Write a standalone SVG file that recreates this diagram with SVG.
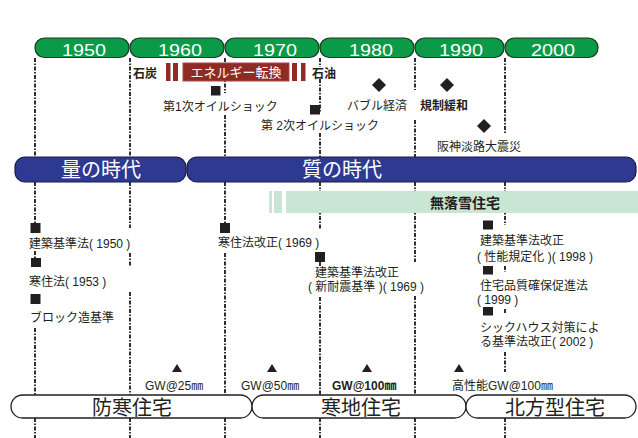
<svg xmlns="http://www.w3.org/2000/svg" width="638" height="438" viewBox="0 0 638 438">
<style>
text{font-family:"Liberation Sans","Noto Sans CJK JP",sans-serif;fill:#231f20}
.t{font-size:12px}
.b{font-weight:bold}
.mm{font-family:"Noto Sans CJK JP",sans-serif;fill:#231f20}
.yr{font-size:17px;fill:#fff;text-anchor:middle}
.tab{fill:#0a9a48;stroke:#1b3a22;stroke-width:1.2}
.era{fill:#2e3a92;stroke:#1a1d40;stroke-width:1.2}
.era-t{font-size:20px;fill:#fff;text-anchor:middle}
.home{fill:#fff;stroke:#231f20;stroke-width:1.3}
.home-t{font-size:20px;text-anchor:middle}
.gw{font-size:12px}
.dl{stroke:#1a1a1a;stroke-width:1.8;stroke-dasharray:4 1.5 1.5 1.5;fill:none}
.sq{fill:#231f20}
.red{fill:#8e2b24}
</style>
<g id="connectors">
<path class="dl" d="M35 58V157M35 182V223M35 251V258M35 328V395M35 418V438"/>
<path class="dl" d="M130 58V157M130 182V228M130 253V267M130 292V395M130 418V438"/>
<path class="dl" d="M225 58V93M225 115V157M225 182V223M225 253V395M225 418V438"/>
<path class="dl" d="M320 58V67M320 79V113M320 133V157M320 182V230M320 262V266M320 297V395M320 418V438"/>
<path class="dl" d="M415 58V90M415 120V157M415 182V262M415 296V395M415 418V438"/>
<path class="dl" d="M505 58V133M505 182V225M505 266V272M505 309V314M505 352V372M505 418V438"/>
</g>
<g id="decades">
<rect class="tab" x="35" y="38" width="94" height="19.5" rx="9.5"/>
<rect class="tab" x="130" y="38" width="94" height="19.5" rx="9.5"/>
<rect class="tab" x="225" y="38" width="94" height="19.5" rx="9.5"/>
<rect class="tab" x="320" y="38" width="94" height="19.5" rx="9.5"/>
<rect class="tab" x="415" y="38" width="89" height="19.5" rx="9.5"/>
<rect class="tab" x="505" y="38" width="93" height="19.5" rx="9.5"/>
<text class="yr" x="84" y="56" textLength="44" lengthAdjust="spacingAndGlyphs">1950</text>
<text class="yr" x="180" y="56" textLength="44" lengthAdjust="spacingAndGlyphs">1960</text>
<text class="yr" x="275" y="56" textLength="44" lengthAdjust="spacingAndGlyphs">1970</text>
<text class="yr" x="371" y="56" textLength="44" lengthAdjust="spacingAndGlyphs">1980</text>
<text class="yr" x="461" y="56" textLength="44" lengthAdjust="spacingAndGlyphs">1990</text>
<text class="yr" x="553" y="56" textLength="44" lengthAdjust="spacingAndGlyphs">2000</text>
</g>
<g id="energy">
<rect class="red" x="166" y="63" width="4.5" height="18"/>
<rect class="red" x="173" y="63" width="5" height="18"/>
<rect class="red" x="183" y="63" width="106" height="18" stroke="#a84a42" stroke-width="1"/>
<rect class="red" x="292" y="63" width="5" height="18"/>
<rect class="red" x="301" y="63" width="4.5" height="18"/>
<text x="236" y="77" font-size="13" style="fill:#fff" text-anchor="middle">エネルギー転換</text>
<text class="t b" x="133" y="78" font-size="12.5">石炭</text>
<text class="t b" x="312" y="78">石油</text>
</g>
<g id="oil1">
<rect class="sq" x="211" y="86" width="9.5" height="9.5"/>
<text class="t" x="163" y="111">第1次オイルショック</text>
</g>
<g id="oil2">
<rect class="sq" x="310" y="105" width="10" height="9.5"/>
<text class="t" x="261" y="130">第 2次オイルショック</text>
</g>
<g id="bubble">
<path class="sq" d="M379 78L386 85L379 92L372 85Z"/>
<text class="t" x="347" y="110">バブル経済</text>
</g>
<g id="dereg">
<path class="sq" d="M447 78L454 85L447 92L440 85Z"/>
<text class="t b" x="420" y="110">規制緩和</text>
</g>
<g id="quake">
<path class="sq" d="M484 119L491 126L484 133L477 126Z"/>
<text class="t" x="437" y="151" font-size="13">阪神淡路大震災</text>
</g>
<g id="era-quantity">
<rect class="era" x="15" y="157" width="171" height="25" rx="10"/>
<text class="era-t" x="101" y="177">量の時代</text>
</g>
<g id="era-quality">
<rect class="era" x="187" y="157" width="449" height="25" rx="10"/>
<text class="era-t" x="342" y="177">質の時代</text>
</g>
<g id="snowless">
<rect x="269" y="191" width="3" height="22" fill="#c9e6d5"/>
<rect x="274" y="191" width="8" height="22" fill="#c9e6d5"/>
<rect x="286" y="191" width="352" height="22" fill="#c9e6d5"/>
<text class="b" x="465" y="208" font-size="14" text-anchor="middle">無落雪住宅</text>
</g>
<g id="law1950">
<rect class="sq" x="30.5" y="223" width="10" height="10"/>
<text class="t" x="29" y="248">建築基準法( 1950 )</text>
</g>
<g id="law1953">
<rect class="sq" x="31" y="258" width="10" height="9"/>
<text class="t" x="29" y="286">寒住法( 1953 )</text>
</g>
<g id="block">
<rect class="sq" x="30.5" y="294" width="10" height="10"/>
<text class="t" x="30" y="322">ブロック造基準</text>
</g>
<g id="law1969a">
<rect class="sq" x="220" y="223" width="10" height="10"/>
<text class="t" x="218" y="247">寒住法改正( 1969 )</text>
</g>
<g id="law1969b">
<rect class="sq" x="315" y="252" width="10" height="10"/>
<text class="t" x="315" y="277">建築基準法改正</text>
<text class="t" x="308" y="291">( 新耐震基準 )( 1969 )</text>
</g>
<g id="law1998">
<rect class="sq" x="483" y="220.5" width="10" height="9"/>
<text class="t" x="480" y="245">建築基準法改正</text>
<text class="t" x="477" y="261">( 性能規定化 )( 1998 )</text>
</g>
<g id="law1999">
<rect class="sq" x="483" y="266" width="10" height="8.5"/>
<text class="t" x="480" y="290">住宅品質確保促進法</text>
<text class="t" x="477" y="304">( 1999 )</text>
</g>
<g id="law2002">
<rect class="sq" x="483" y="307" width="10" height="8.5"/>
<text class="t" x="480" y="332">シックハウス対策によ</text>
<text class="t" x="480" y="346">る基準法改正( 2002 )</text>
</g>
<g id="gw25">
<path class="sq" d="M177 364L182 372H172Z"/>
<text class="gw" x="145" y="390">GW@25<tspan class="mm">㎜</tspan></text>
</g>
<g id="gw50">
<path class="sq" d="M272 364L277 372H267Z"/>
<text class="gw" x="241" y="390">GW@50<tspan class="mm">㎜</tspan></text>
</g>
<g id="gw100">
<path class="sq" d="M367 364L372 372H362Z"/>
<text class="gw b" x="332" y="390">GW@100<tspan class="mm">㎜</tspan></text>
</g>
<g id="gw100hp">
<path class="sq" d="M459 364L464 372H454Z"/>
<text class="gw" x="452" y="390">高性能GW@100<tspan class="mm">㎜</tspan></text>
</g>
<g id="home-cold">
<rect class="home" x="11" y="395" width="241" height="23" rx="11.5"/>
<text class="home-t" x="132" y="415">防寒住宅</text>
</g>
<g id="home-coldregion">
<rect class="home" x="252" y="395" width="214" height="23" rx="11.5"/>
<text class="home-t" x="361" y="415">寒地住宅</text>
</g>
<g id="home-north">
<rect class="home" x="466" y="395" width="170" height="23" rx="11.5"/>
<text class="home-t" x="555" y="415">北方型住宅</text>
</g>
</svg>
